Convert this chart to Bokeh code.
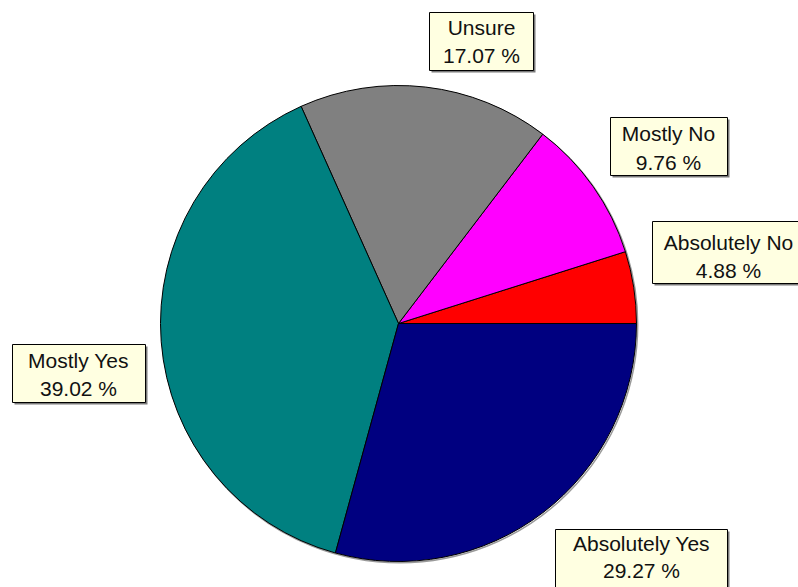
import math
from bokeh.plotting import figure
from bokeh.models import Range1d, ColumnDataSource
from bokeh.core.properties import value
from bokeh.embed import file_html
from bokeh.resources import INLINE

# ---- data ----
categories = ["Absolutely No", "Mostly No", "Unsure", "Mostly Yes", "Absolutely Yes"]
percents = [4.88, 9.76, 17.07, 39.02, 29.27]
colors = ["#FF0000", "#FF00FF", "#808080", "#008080", "#000080"]

# ---- layout (screen pixels of the picture) ----
W, H = 798, 587
OFF = 0
CX_S, CY_S, R = 398, 323, 238
# label boxes: left, top, right, bottom, text centre x, line1 y, line2 y (screen px)
boxes = {
    "Unsure":         (429, 12, 533, 70, 481, 27, 55),
    "Mostly No":      (610, 117, 727, 175, 668, 133, 162),
    "Absolutely No":  (652, 221, 805, 283, 728, 242, 270),
    "Mostly Yes":     (12, 344, 145, 402, 78, 360, 388),
    "Absolutely Yes": (555, 529, 727, 595, 641, 543, 570),
}

def fx(sx):
    return sx - OFF

def fy(sy):
    return H - (sy - OFF)

p = figure(width=W, height=H, output_backend="svg", toolbar_location=None,
           x_range=Range1d(0, W), y_range=Range1d(0, H),
           x_axis_type=None, y_axis_type=None, min_border=0)
p.grid.visible = False
p.outline_line_color = None
p.background_fill_color = "white"

cx, cy = fx(CX_S), fy(CY_S)

# soft shadow of the pie rim
p.circle(x=[cx + 1.2], y=[cy - 1.2], radius=R, fill_color=None,
         line_color="#9a9a9a", line_width=1.5)

# wedges, counter-clockwise starting at 3 o'clock
total = sum(percents)
starts, ends = [], []
acc = 0.0
for v in percents:
    starts.append(2 * math.pi * acc / total)
    acc += v
    ends.append(2 * math.pi * acc / total)

src = ColumnDataSource(dict(start=starts, end=ends, color=colors))
p.wedge(x=cx, y=cy, radius=R, start_angle="start", end_angle="end",
        fill_color="color", line_color="black", line_width=1, source=src)

# label boxes
for cat, pct in zip(categories, percents):
    L, T, Rr, B, tx, y1, y2 = boxes[cat]
    p.quad(left=[fx(L) + 2], right=[fx(Rr) + 2], top=[fy(T) - 2], bottom=[fy(B) - 2],
           fill_color="#7a7a7a", line_color=None)
    p.quad(left=[fx(L)], right=[fx(Rr)], top=[fy(T)], bottom=[fy(B)],
           fill_color="#FFFFE1", line_color="black", line_width=1)
    p.text(x=[fx(tx), fx(tx)], y=[fy(y1), fy(y2)],
           text=[cat, f"{pct:.2f} %"],
           text_font=value("Liberation Sans"), text_font_size="21px",
           text_color="#111111", text_align="center", text_baseline="middle")

open("out.html", "w").write(file_html(p, INLINE))
